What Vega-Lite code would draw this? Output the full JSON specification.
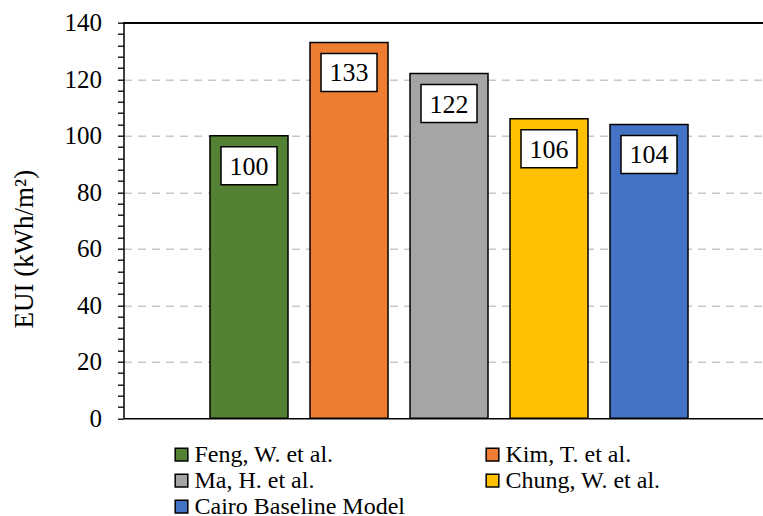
{
  "$schema": "https://vega.github.io/schema/vega-lite/v6.json",
  "autosize": "none",
  "width": 640,
  "height": 395.6,
  "padding": {"left": 123.5, "top": 22.7, "right": 0, "bottom": 98},
  "background": "white",
  "config": {
    "view": {"stroke": null},
    "font": "Times New Roman, Liberation Serif, DejaVu Serif, serif"
  },
  "data": {
    "values": [
      {"study": "Feng, W. et al.", "eui": 100},
      {"study": "Kim, T. et al.", "eui": 133},
      {"study": "Ma, H. et al.", "eui": 122},
      {"study": "Chung, W. et al.", "eui": 106},
      {"study": "Cairo Baseline Model", "eui": 104}
    ]
  },
  "encoding": {
    "x": {
      "field": "study",
      "type": "nominal",
      "sort": null,
      "scale": {"paddingInner": 0.22, "paddingOuter": 0.81, "align": 0.534},
      "axis": {
        "title": null,
        "labels": false,
        "ticks": false,
        "domainColor": "black",
        "domainWidth": 1.5
      }
    },
    "y": {
      "field": "eui",
      "type": "quantitative",
      "scale": {"domain": [0, 140], "nice": false},
      "axis": {
        "title": "EUI (kWh/m²)",
        "titleFont": "Times New Roman, Liberation Serif, DejaVu Serif, serif",
        "titleFontSize": 27,
        "titleFontWeight": "normal",
        "titleColor": "black",
        "titlePadding": 26,
        "titleY": 226,
        "values": [0, 4, 8, 12, 16, 20, 24, 28, 32, 36, 40, 44, 48, 52, 56, 60, 64, 68, 72, 76, 80, 84, 88, 92, 96, 100, 104, 108, 112, 116, 120, 124, 128, 132, 136, 140],
        "labelExpr": "datum.value % 20 === 0 ? datum.label : ''",
        "labelFont": "Times New Roman, Liberation Serif, DejaVu Serif, serif",
        "labelFontSize": 25,
        "labelColor": "black",
        "labelPadding": 16,
        "labelOverlap": false,
        "labelFlush": false,
        "tickColor": "black",
        "tickWidth": 1.3,
        "tickSize": 6,
        "domainColor": "black",
        "domainWidth": 1.5,
        "grid": true,
        "gridColor": "#c8c8c8",
        "gridWidth": 1.5,
        "gridDash": [8, 6],
        "gridOpacity": {"condition": {"test": "datum.value % 20 !== 0 || datum.value === 0 || datum.value === 140", "value": 0}, "value": 1}
      }
    }
  },
  "layer": [
    {
      "mark": {"type": "bar", "stroke": "black", "strokeWidth": 1.5},
      "encoding": {
        "fill": {
          "field": "study",
          "type": "nominal",
          "scale": {
            "domain": ["Feng, W. et al.", "Kim, T. et al.", "Ma, H. et al.", "Chung, W. et al.", "Cairo Baseline Model"],
            "range": ["#548235", "#ED7D31", "#A5A5A5", "#FFC000", "#4472C4"]
          },
          "legend": {
            "title": null,
            "orient": "none",
            "legendX": 46,
            "legendY": 420,
            "values": ["Feng, W. et al.", "Ma, H. et al.", "Cairo Baseline Model", "Kim, T. et al.", "Chung, W. et al."],
            "columns": 2,
            "columnPadding": 75,
            "rowPadding": 2,
            "padding": 0,
            "symbolType": "square",
            "symbolSize": 160,
            "symbolStrokeColor": "black",
            "symbolStrokeWidth": 1.5,
            "symbolOpacity": 1,
            "labelFont": "Times New Roman, Liberation Serif, DejaVu Serif, serif",
            "labelFontSize": 24,
            "labelColor": "black",
            "labelOffset": 1,
            "labelLimit": 400
          }
        }
      }
    },
    {
      "mark": {
        "type": "point",
        "shape": "M-1,-0.68L1,-0.68L1,0.68L-1,0.68Z",
        "size": 3136,
        "filled": true,
        "fill": "white",
        "stroke": "black",
        "strokeWidth": 1.5,
        "opacity": 1,
        "yOffset": 30
      },
      "encoding": {}
    },
    {
      "mark": {
        "type": "text",
        "font": "Times New Roman, Liberation Serif, DejaVu Serif, serif",
        "fontSize": 26,
        "color": "black",
        "baseline": "middle",
        "yOffset": 31
      },
      "encoding": {"text": {"field": "eui", "type": "quantitative"}}
    },
    {
      "mark": {"type": "rule", "color": "black", "strokeWidth": 1.5},
      "encoding": {"y": {"datum": 140}, "x": {"value": 0}, "x2": {"value": 640}}
    }
  ]
}
